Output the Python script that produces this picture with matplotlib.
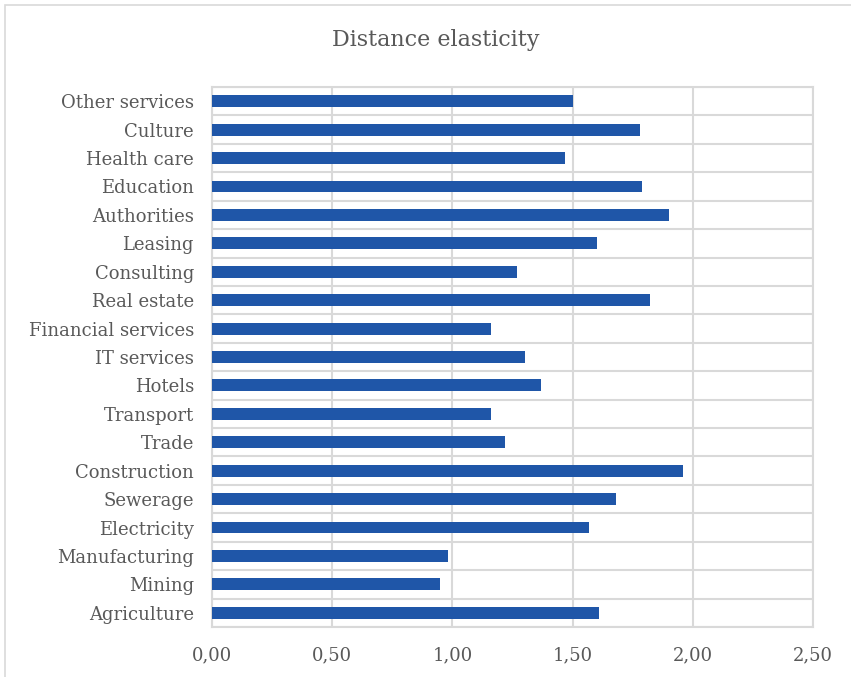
import numpy as np
import matplotlib.pyplot as plt
from matplotlib.patches import Rectangle

# Categories from bottom to top
sectors = ['Agriculture', 'Mining', 'Manufacturing', 'Electricity', 'Sewerage',
           'Construction', 'Trade', 'Transport', 'Hotels', 'IT services',
           'Financial services', 'Real estate', 'Consulting', 'Leasing',
           'Authorities', 'Education', 'Health care', 'Culture', 'Other services']
elasticity = [1.61, 0.95, 0.98, 1.57, 1.68,
              1.96, 1.22, 1.16, 1.37, 1.30,
              1.16, 1.82, 1.27, 1.60,
              1.90, 1.79, 1.47, 1.78, 1.50]
xticks = [0.0, 0.5, 1.0, 1.5, 2.0, 2.5]
xtick_labels = ['0,00', '0,50', '1,00', '1,50', '2,00', '2,50']

plt.rcParams['font.family'] = ['DejaVu Serif']
txt = '#595959'
grid = '#D9D9D9'

fig = plt.figure(figsize=(8.51, 6.77), dpi=100)
ax = fig.add_axes([212/851, 1 - 627/677, (813-212)/851, (627-87)/677])

y = np.arange(len(sectors))
ax.barh(y, elasticity, height=0.42, color='#1F56A8', zorder=3)

ax.set_xlim(0, 2.5)
ax.set_ylim(-0.5, len(sectors) - 0.5)
ax.set_xticks(xticks)
ax.set_xticklabels(xtick_labels)
ax.set_yticks(y)
ax.set_yticklabels(sectors)
ax.set_yticks(np.arange(len(sectors) + 1) - 0.5, minor=True)

ax.grid(axis='x', color=grid, lw=1.5, zorder=0)
ax.grid(axis='y', which='minor', color=grid, lw=1.5, zorder=0)
ax.tick_params(which='both', length=0, colors=txt, labelsize=13)
ax.tick_params(axis='x', pad=14)
ax.tick_params(axis='y', pad=13)
for s in ax.spines.values():
    s.set_color(grid)
    s.set_linewidth(1.5)

# title is centred on the whole chart, not the plot area
fig.text(436/851, 1 - 40/677, 'Distance elasticity', color=txt, fontsize=16,
         ha='center', va='center')

# outer chart border
fig.patches.append(Rectangle((5/851, -0.1), 1.1, 1 - 5/677 + 0.1, transform=fig.transFigure,
                             fill=False, edgecolor=grid, lw=1.2))

fig.savefig('out.png', dpi=100)
